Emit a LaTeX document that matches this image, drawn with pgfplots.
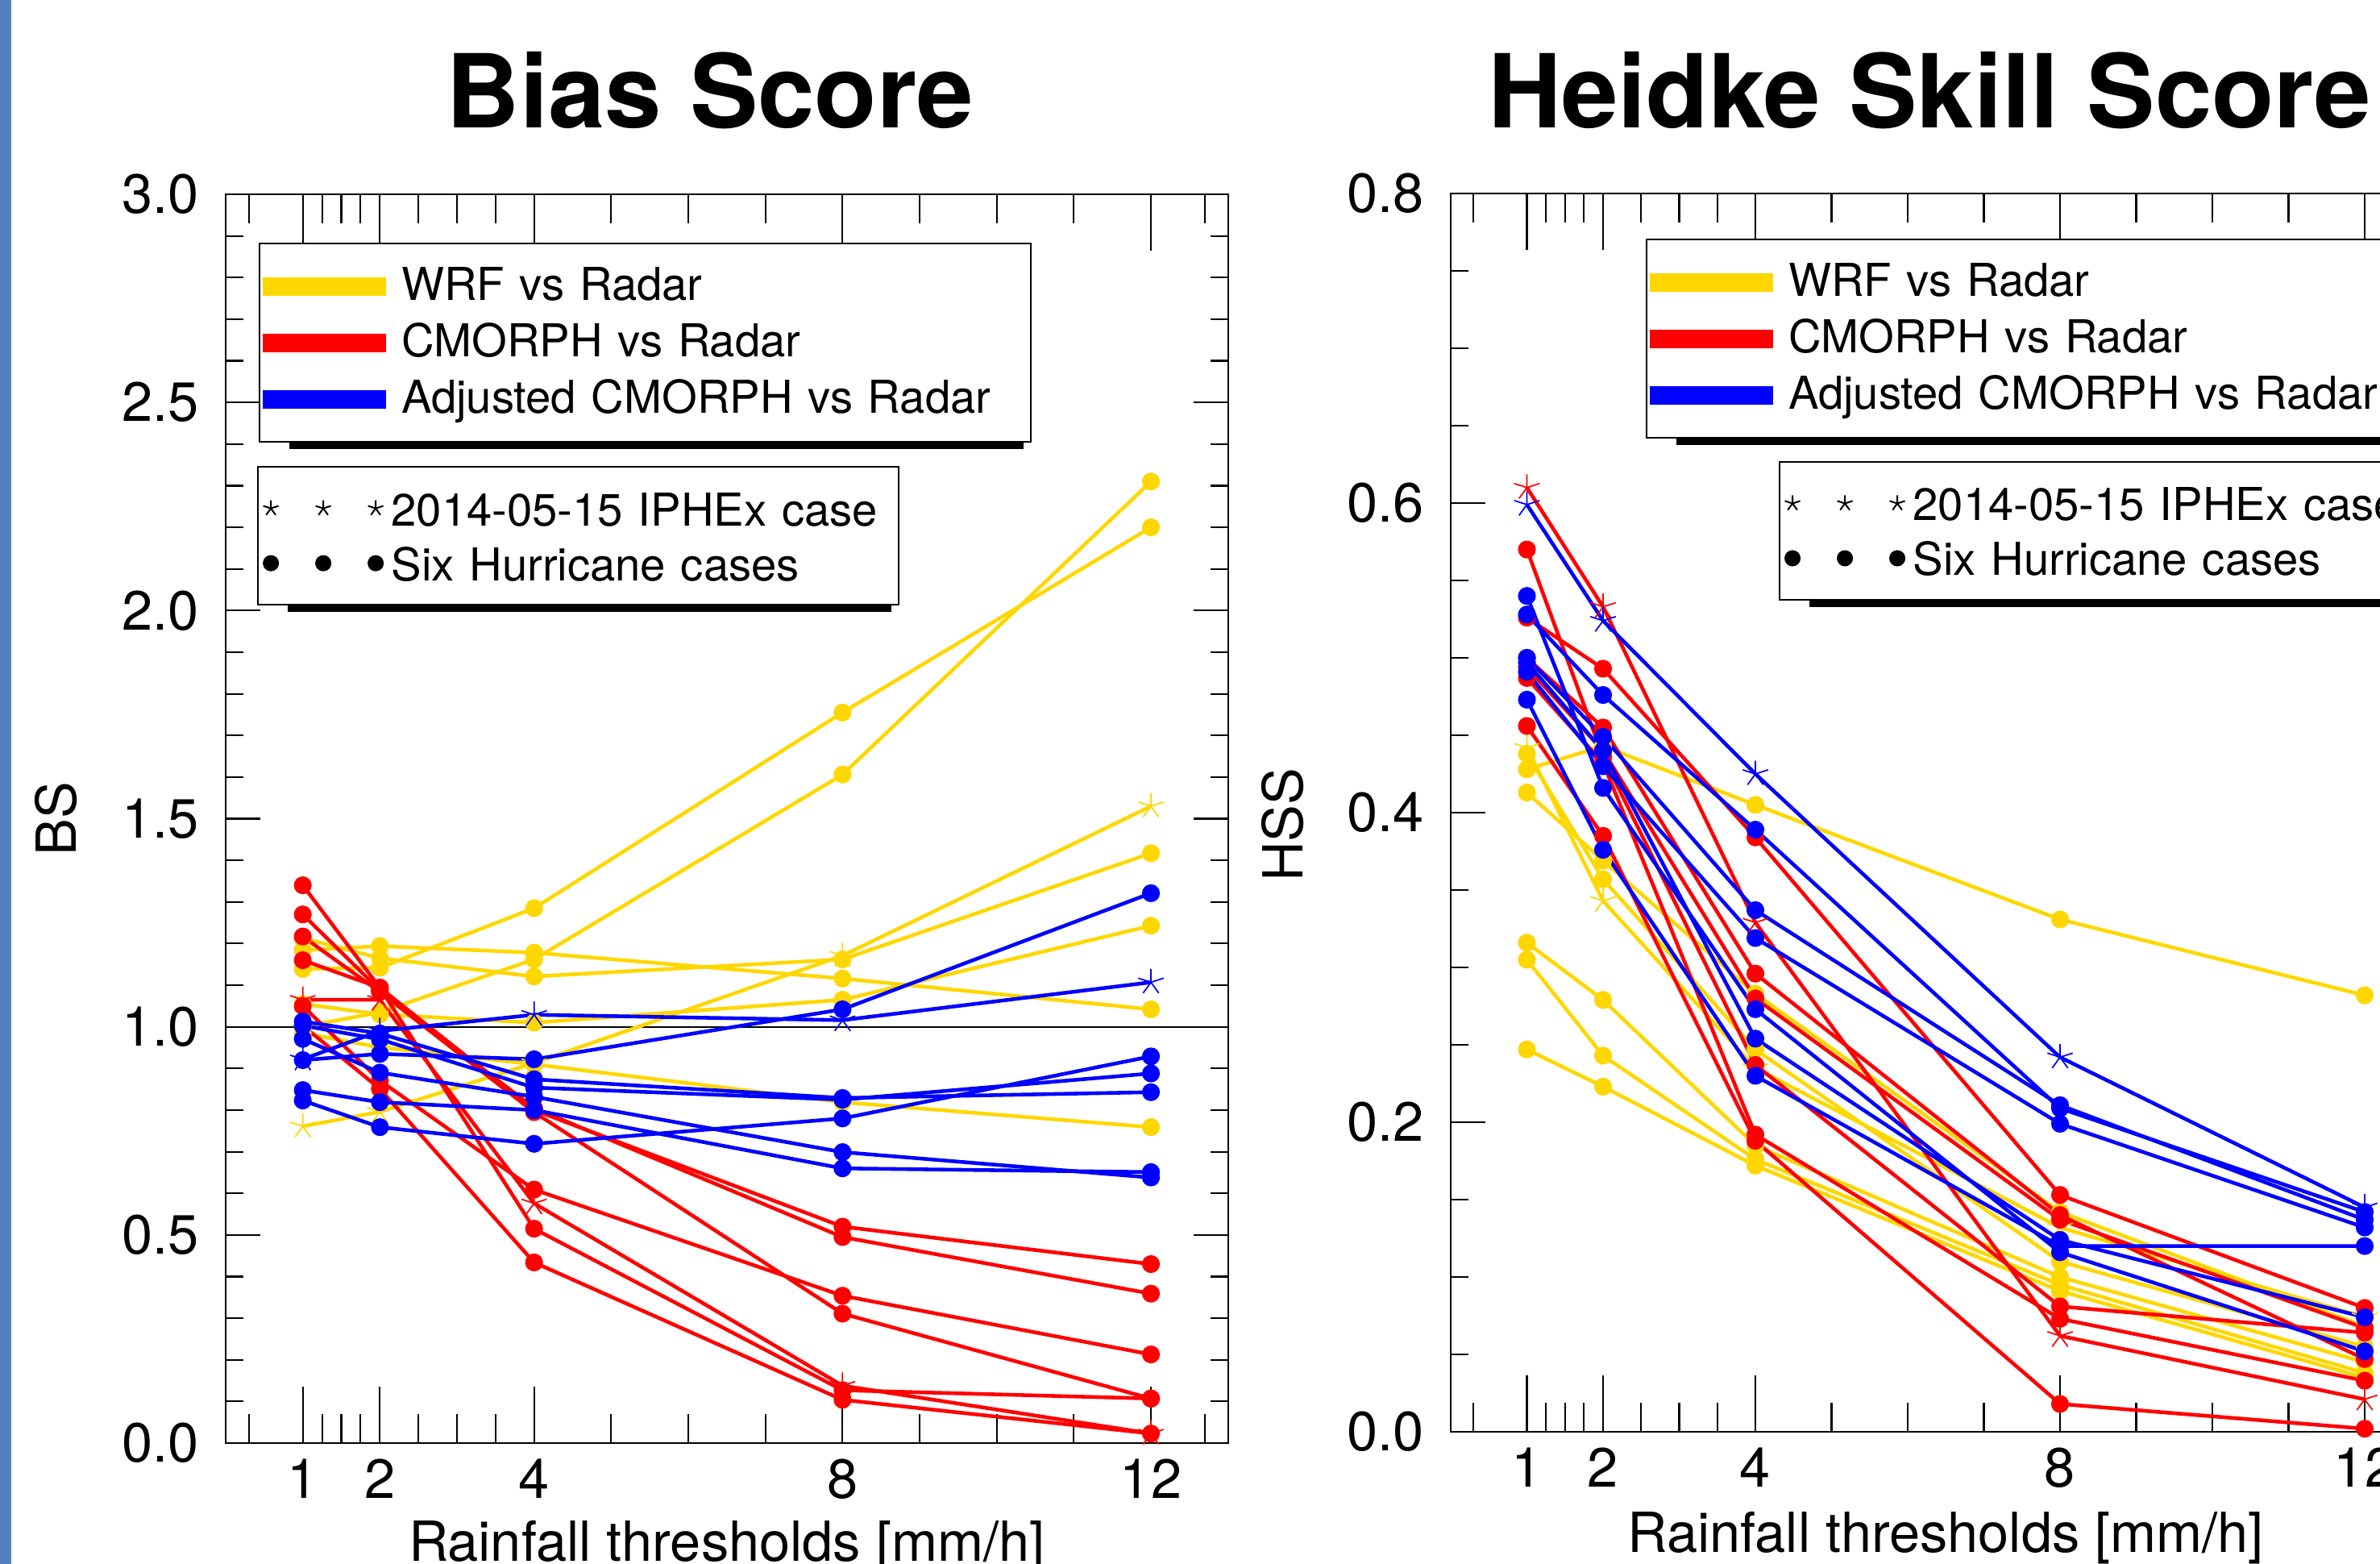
\documentclass[border=0pt]{standalone}
\usepackage{fontspec}
\setmainfont{TeX Gyre Heros}
\usepackage{pgfplots}
\pgfplotsset{compat=1.18}

\definecolor{wrfc}{RGB}{255,215,0}
\definecolor{cmc}{RGB}{255,0,0}
\definecolor{adjc}{RGB}{0,0,255}
\definecolor{slidebar}{RGB}{79,129,189}

\newcommand{\tickfont}{\fontsize{19.5}{23}\selectfont}
\newcommand{\legfont}{\fontsize{16}{19}\selectfont}

\pgfplotsset{
  panel/.style={
    scale only axis, anchor=south west,
    xmin=0, xmax=13,
    xtick={1,2,4,8,12},
    minor xtick={0.3,1.25,1.5,1.75,2.5,3,3.5,5,6,7,9,10,11,12.7},
    tick align=inside,
    axis line style={line width=0.6pt},
    every tick/.append style={black, line width=0.6pt},
    x tick style={/pgfplots/major tick length=0.70cm, /pgfplots/minor tick length=0.36cm},
    y tick style={/pgfplots/major tick length=0.43cm, /pgfplots/minor tick length=0.22cm},
    tick label style={font=\tickfont, /pgf/number format/assume math mode=true},
    xticklabel style={yshift=-0.07cm},
    yticklabel style={/pgf/number format/fixed, /pgf/number format/fixed zerofill,
      /pgf/number format/precision=1, xshift=-0.21cm},
    label style={font=\tickfont},
  },
  colourlegend/.style={
    legend image code/.code={
      \path[draw=none] (0cm,0cm) -- (1.57cm,0cm);
      \draw[##1, line width=0.23cm, overlay] (0.04cm,0cm) -- (1.57cm,0cm);
    },
    legend cell align=left,
    legend style={anchor=north west, draw=black, line width=0.6pt, fill=white,
      inner xsep=0pt, inner ysep=0.18cm, column sep=0.19cm,
      nodes={inner sep=0pt, text height=0.52cm, text depth=0.18cm,
        text width=7.81cm, align=left, font=\legfont}},
  },
  marklegend/.style={
    hide axis,
    legend image code/.code={
      \path[draw=none] (0cm,0cm) -- (1.54cm,0cm);
      \path[##1, draw=none] plot coordinates {(0.16cm,0cm)};
      \path[##1, draw=none] plot coordinates {(0.81cm,0cm)};
      \path[##1, draw=none] plot coordinates {(1.46cm,0cm)};
    },
    legend cell align=left,
    legend style={anchor=north west, draw=black, line width=0.6pt, fill=white,
      inner xsep=0pt, inner ysep=0.175cm, column sep=0.10cm,
      nodes={inner sep=0pt, text height=0.555cm, text depth=0.125cm,
        text width=6.29cm, align=left, font=\legfont}},
  },
  hur/.style={line width=1.3pt, mark=*, mark size=2.9pt, mark options={solid, line width=0.5pt}},
  iph/.style={line width=1.3pt, mark=star, mark size=4.7pt, mark options={solid, line width=0.5pt}},
  geomBS/.style={at={(2.80cm,-17.90cm)}, width=12.437cm, height=15.49cm, ymin=0, ymax=3},
  geomHSS/.style={at={(18.00cm,-17.76cm)}, width=12.285cm, height=15.36cm, ymin=0, ymax=0.8},
}

\begin{document}
\begin{tikzpicture}
\useasboundingbox (0,0) rectangle (29.53,-19.40);
\fill[slidebar] (0,0) rectangle (0.14,-19.40);

\node[anchor=base, font=\fontsize{36}{40}\selectfont\bfseries] at (8.81,-1.59) {Bias Score};
\node[anchor=base, font=\fontsize{36}{40}\selectfont\bfseries] at (23.94,-1.59) {Heidke Skill Score};

% ---------------- Bias Score ----------------
\begin{axis}[panel, geomBS,
  ytick={0,0.5,1,1.5,2,2.5,3}, minor y tick num=4,
  ylabel={BS}, ylabel style={at={(axis description cs:-0.169,0.5)}, anchor=center},
  xlabel={Rainfall thresholds [mm/h]},
  xlabel style={at={(axis description cs:0.5,0)}, anchor=base, yshift=-1.46cm},
  colourlegend, legend style={at={(axis description cs:0.033,0.9613)}, name=legBSa}]
\addlegendimage{wrfc}\addlegendentry{WRF vs Radar}
\addlegendimage{cmc}\addlegendentry{CMORPH vs Radar}
\addlegendimage{adjc}\addlegendentry{Adjusted CMORPH vs Radar}

\addplot[black, line width=0.6pt] coordinates {(0,1) (13,1)};

% WRF vs Radar
\addplot[wrfc, hur] coordinates {(1,1.139) (2,1.142) (4,1.285) (8,1.755) (12,2.200)};
\addplot[wrfc, hur] coordinates {(1,1.000) (2,1.035) (4,1.162) (8,1.606) (12,2.310)};
\addplot[wrfc, hur] coordinates {(1,1.184) (2,1.194) (4,1.178) (8,1.116) (12,1.042)};
\addplot[wrfc, hur] coordinates {(1,1.213) (2,1.165) (4,1.121) (8,1.162) (12,1.417)};
\addplot[wrfc, hur] coordinates {(1,1.055) (2,1.030) (4,1.010) (8,1.065) (12,1.243)};
\addplot[wrfc, hur] coordinates {(1,0.985) (2,0.951) (4,0.910) (8,0.819) (12,0.759)};
\addplot[wrfc, iph] coordinates {(1,0.761) (2,0.796) (4,0.913) (8,1.171) (12,1.530)};
% CMORPH vs Radar
\addplot[cmc, hur] coordinates {(1,1.340) (2,1.094) (4,0.800) (8,0.520) (12,0.430)};
\addplot[cmc, hur] coordinates {(1,1.270) (2,1.088) (4,0.805) (8,0.495) (12,0.359)};
\addplot[cmc, hur] coordinates {(1,1.217) (2,1.084) (4,0.795) (8,0.311) (12,0.107)};
\addplot[cmc, hur] coordinates {(1,1.160) (2,1.094) (4,0.515) (8,0.127) (12,0.107)};
\addplot[cmc, hur] coordinates {(1,1.050) (2,0.871) (4,0.609) (8,0.354) (12,0.213)};
\addplot[cmc, hur] coordinates {(1,1.003) (2,0.851) (4,0.434) (8,0.104) (12,0.023)};
\addplot[cmc, iph] coordinates {(1,1.065) (2,1.065) (4,0.576) (8,0.138) (12,0.023)};
% Adjusted CMORPH vs Radar
\addplot[adjc, hur] coordinates {(1,1.013) (2,0.984) (4,0.874) (8,0.829) (12,0.843)};
\addplot[adjc, hur] coordinates {(1,1.003) (2,0.970) (4,0.854) (8,0.825) (12,0.888)};
\addplot[adjc, hur] coordinates {(1,0.971) (2,0.890) (4,0.832) (8,0.699) (12,0.638)};
\addplot[adjc, hur] coordinates {(1,0.920) (2,0.935) (4,0.922) (8,1.042) (12,1.321)};
\addplot[adjc, hur] coordinates {(1,0.848) (2,0.819) (4,0.800) (8,0.660) (12,0.651)};
\addplot[adjc, hur] coordinates {(1,0.823) (2,0.759) (4,0.719) (8,0.780) (12,0.929)};
\addplot[adjc, iph] coordinates {(1,0.922) (2,0.990) (4,1.029) (8,1.016) (12,1.107)};
\end{axis}

\begin{axis}[geomBS, scale only axis, anchor=south west, xmin=0, xmax=13, marklegend,
  legend style={at={(axis description cs:0.0314,0.7824)}, name=legBSb}]
\addlegendimage{mark=star, black, mark size=2.85pt, mark options={draw=black, line width=0.57pt}}
\addlegendentry{2014-05-15 IPHEx case}
\addlegendimage{mark=*, black, mark size=2.6pt, mark options={draw=black, fill=black, line width=0.5pt}}
\addlegendentry{Six Hurricane cases}
\end{axis}

% ---------------- Heidke Skill Score ----------------
\begin{axis}[panel, geomHSS,
  ytick={0,0.2,0.4,0.6,0.8}, minor y tick num=3,
  ylabel={HSS}, ylabel style={at={(axis description cs:-0.170,0.49)}, anchor=center},
  xlabel={Rainfall thresholds [mm/h]},
  xlabel style={at={(axis description cs:0.5,0)}, anchor=base, yshift=-1.49cm},
  colourlegend, legend style={at={(axis description cs:0.197,0.9635)}, name=legHSSa}]
\addlegendimage{wrfc}\addlegendentry{WRF vs Radar}
\addlegendimage{cmc}\addlegendentry{CMORPH vs Radar}
\addlegendimage{adjc}\addlegendentry{Adjusted CMORPH vs Radar}

% WRF vs Radar
\addplot[wrfc, hur] coordinates {(1,0.428) (2,0.443) (4,0.405) (8,0.331) (12,0.282)};
\addplot[wrfc, hur] coordinates {(1,0.413) (2,0.369) (4,0.283) (8,0.142) (12,0.068)};
\addplot[wrfc, hur] coordinates {(1,0.438) (2,0.357) (4,0.247) (8,0.110) (12,0.055)};
\addplot[wrfc, hur] coordinates {(1,0.316) (2,0.279) (4,0.185) (8,0.100) (12,0.045)};
\addplot[wrfc, hur] coordinates {(1,0.305) (2,0.243) (4,0.176) (8,0.095) (12,0.038)};
\addplot[wrfc, hur] coordinates {(1,0.247) (2,0.223) (4,0.172) (8,0.091) (12,0.035)};
\addplot[wrfc, iph] coordinates {(1,0.442) (2,0.343) (4,0.235) (8,0.132) (12,0.074)};
% CMORPH vs Radar
\addplot[cmc, hur] coordinates {(1,0.526) (2,0.493) (4,0.384) (8,0.153) (12,0.080)};
\addplot[cmc, hur] coordinates {(1,0.500) (2,0.455) (4,0.296) (8,0.140) (12,0.047)};
\addplot[cmc, hur] coordinates {(1,0.570) (2,0.436) (4,0.237) (8,0.081) (12,0.064)};
\addplot[cmc, hur] coordinates {(1,0.494) (2,0.440) (4,0.280) (8,0.137) (12,0.067)};
\addplot[cmc, hur] coordinates {(1,0.487) (2,0.432) (4,0.192) (8,0.073) (12,0.033)};
\addplot[cmc, hur] coordinates {(1,0.456) (2,0.385) (4,0.188) (8,0.018) (12,0.002)};
\addplot[cmc, iph] coordinates {(1,0.610) (2,0.533) (4,0.329) (8,0.062) (12,0.021)};
% Adjusted CMORPH vs Radar
\addplot[adjc, hur] coordinates {(1,0.528) (2,0.476) (4,0.389) (8,0.209) (12,0.142)};
\addplot[adjc, hur] coordinates {(1,0.500) (2,0.449) (4,0.337) (8,0.211) (12,0.137)};
\addplot[adjc, hur] coordinates {(1,0.491) (2,0.430) (4,0.319) (8,0.199) (12,0.132)};
\addplot[adjc, hur] coordinates {(1,0.540) (2,0.416) (4,0.273) (8,0.116) (12,0.052)};
\addplot[adjc, hur] coordinates {(1,0.497) (2,0.440) (4,0.254) (8,0.124) (12,0.074)};
\addplot[adjc, hur] coordinates {(1,0.473) (2,0.376) (4,0.230) (8,0.120) (12,0.120)};
\addplot[adjc, iph] coordinates {(1,0.599) (2,0.524) (4,0.425) (8,0.242) (12,0.145)};
\end{axis}

\begin{axis}[geomHSS, scale only axis, anchor=south west, xmin=0, xmax=13, marklegend,
  legend style={at={(axis description cs:0.3313,0.7839)}, name=legHSSb}]
\addlegendimage{mark=star, black, mark size=2.85pt, mark options={draw=black, line width=0.57pt}}
\addlegendentry{2014-05-15 IPHEx case}
\addlegendimage{mark=*, black, mark size=2.6pt, mark options={draw=black, fill=black, line width=0.5pt}}
\addlegendentry{Six Hurricane cases}
\end{axis}

% legend shadows
\fill[black] ([xshift=0.38cm]legBSa.south west) rectangle ([xshift=-0.10cm,yshift=-0.08cm]legBSa.south east);
\fill[black] ([xshift=0.38cm]legBSb.south west) rectangle ([xshift=-0.10cm,yshift=-0.08cm]legBSb.south east);
\fill[black] ([xshift=0.38cm]legHSSa.south west) rectangle ([xshift=-0.10cm,yshift=-0.08cm]legHSSa.south east);
\fill[black] ([xshift=0.38cm]legHSSb.south west) rectangle ([xshift=-0.10cm,yshift=-0.08cm]legHSSb.south east);
\end{tikzpicture}
\end{document}
